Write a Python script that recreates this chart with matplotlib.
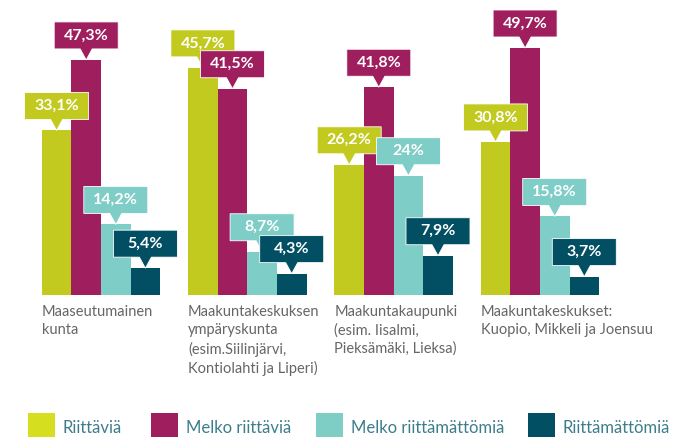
import matplotlib
matplotlib.use('Agg')
import matplotlib.pyplot as plt
from matplotlib.patches import Polygon, Rectangle
from matplotlib.transforms import ScaledTranslation, Bbox, TransformedBbox

# alueet (ryhmät)
categories = [
    'Maaseutumainen\nkunta',
    'Maakuntakeskuksen\nympäryskunta\n(esim.Siilinjärvi,\nKontiolahti ja Liperi)',
    'Maakuntakaupunki\n(esim. Iisalmi,\nPieksämäki, Lieksa)',
    'Maakuntakeskukset:\nKuopio, Mikkeli ja Joensuu',
]
series_names = ['Riittäviä', 'Melko riittäviä', 'Melko riittämättömiä', 'Riittämättömiä']
riittavia = [33.1, 45.7, 26.2, 30.8]
melko_riittavia = [47.3, 41.5, 41.8, 49.7]
melko_riittamattomia = [14.2, 8.7, 24.0, 15.8]
riittamattomia = [5.4, 4.3, 7.9, 3.7]
value_labels = [
    ['33,1%', '45,7%', '26,2%', '30,8%'],
    ['47,3%', '41,5%', '41,8%', '49,7%'],
    ['14,2%', '8,7%', '24%', '15,8%'],
    ['5,4%', '4,3%', '7,9%', '3,7%'],
]

series = [riittavia, melko_riittavia, melko_riittamattomia, riittamattomia]
bar_colors = ['#c2ca20', '#9e1e5e', '#7ecdc6', '#024f63']
legend_colors = ['#d5df1f', '#9e1e5e', '#7ecec6', '#014f63']

W, H = 683, 437
fig = plt.figure(figsize=(W / 100, H / 100), dpi=100)
base_px = 295          # perusviiva pikseleinä ylhäältä
px_per_pct = 4.97
group_px = 146.3
first_center = 101
ax = fig.add_axes([0, (H - base_px) / H, 1, base_px / H])
ax.set_xlim(-first_center / group_px, (W - first_center) / group_px)
ax.set_ylim(0, base_px / px_per_pct)
ax.axis('off')

bw = 29.6 / group_px
for j, vals in enumerate(series):
    xs = [i + (j - 1.5) * bw for i in range(len(vals))]
    ax.bar(xs, vals, width=bw, color=bar_colors[j], linewidth=0, zorder=2)

# arvolaatikot nuolineen (pikseleinä, 1 px = 0.01 in)
box = [(0, 0), (-6, 11), (-32, 11), (-32, 38), (32, 38), (32, 11), (6, 11)]
box_in = [(x / 100, y / 100) for x, y in box]
z = 3
for i in range(len(categories)):
    for j, vals in enumerate(series):
        x = i + (j - 1.5) * bw
        tr = fig.dpi_scale_trans + ScaledTranslation(x, vals[i], ax.transData)
        p = Polygon(box_in, closed=True, transform=tr, facecolor=bar_colors[j],
                    edgecolor='white', linewidth=0.6, zorder=z)
        p.set_clip_on(False)
        ax.add_patch(p)
        ax.text(0, 0.245, value_labels[j][i], transform=tr, ha='center', va='center',
                color='white', fontsize=11.5, fontweight='bold', family='Lato',
                zorder=z + 0.5)
        z += 1

# ryhmien nimet
clip = TransformedBbox(Bbox([[0, (H - 376) / 100], [W / 100, H / 100]]), fig.dpi_scale_trans)
for i, cat in enumerate(categories):
    t = ax.annotate(cat, xy=(i - 2 * bw, 0), xytext=(0, -10), textcoords='offset pixels',
                    ha='left', va='top', fontsize=10.5, color='#666666',
                    family='Lato', linespacing=1.37,
                    annotation_clip=False)
    t.set_clip_box(clip)
    t.set_clip_on(True)

# selite
legend_x = [28, 151, 316, 528]
for j, name in enumerate(series_names):
    fig.patches.append(Rectangle((legend_x[j] / W, 0), 27 / W, 24 / H,
                                 transform=fig.transFigure, facecolor=legend_colors[j],
                                 linewidth=0))
    fig.text((legend_x[j] + 35) / W, (H - 433) / H, name, ha='left', va='baseline',
             fontsize=12, color='#3d7d8b', family='Lato')

fig.savefig('out.png', dpi=100)
